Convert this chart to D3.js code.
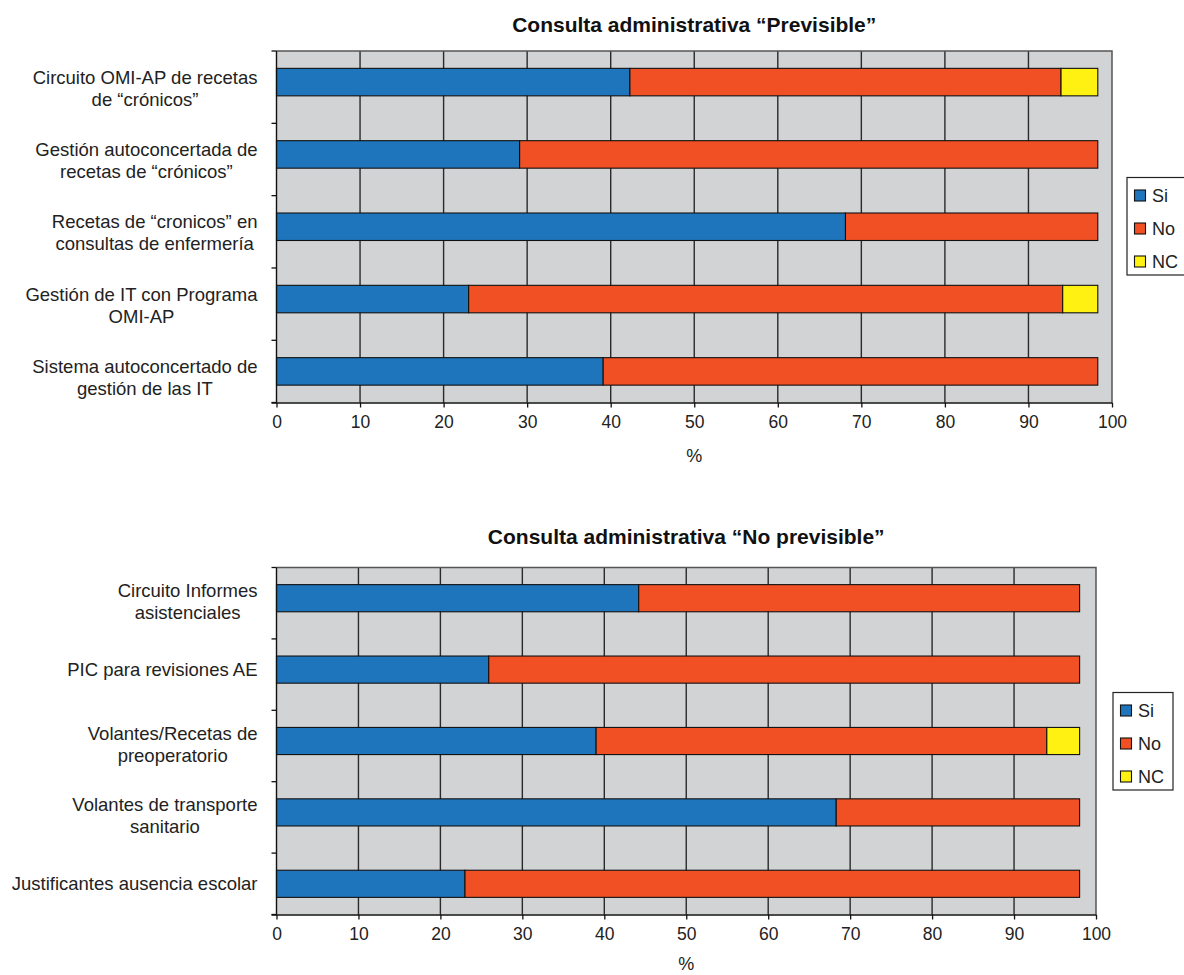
<!DOCTYPE html>
<html>
<head>
<meta charset="utf-8">
<script src="https://cdn.jsdelivr.net/npm/d3@7"></script>
<style>
  html, body { margin: 0; padding: 0; background: #fff; }
  svg { display: block; font-family: "Liberation Sans", Arial, Helvetica, sans-serif; }
</style>
</head>
<body>
<svg id="chart" width="1184" height="975"></svg>
<script>
// ---------- DATA ----------
const seriesNames = ["Si", "No", "NC"];
const xTicks = [0, 10, 20, 30, 40, 50, 60, 70, 80, 90, 100];

const topTitle = "Consulta administrativa \u201cPrevisible\u201d";
const topCategories = [
  ["Circuito OMI-AP de recetas", "de \u201ccr\u00f3nicos\u201d"],
  ["Gesti\u00f3n autoconcertada de", "recetas de \u201ccr\u00f3nicos\u201d"],
  ["Recetas de \u201ccronicos\u201d en", "consultas de enfermer\u00eda"],
  ["Gesti\u00f3n de IT con Programa", "OMI-AP"],
  ["Sistema autoconcertado de", "gesti\u00f3n de las IT"]
];
const topSi = [42.3, 29.1, 68.1, 23.0, 39.1];
const topNo = [51.6, 69.2, 30.2, 71.1, 59.2];
const topNC = [4.4, 0, 0, 4.2, 0];

const bottomTitle = "Consulta administrativa \u201cNo previsible\u201d";
const bottomCategories = [
  ["Circuito Informes", "asistenciales"],
  ["PIC para revisiones AE"],
  ["Volantes/Recetas de", "preoperatorio"],
  ["Volantes de transporte", "sanitario"],
  ["Justificantes ausencia escolar"]
];
const bottomSi = [44.2, 25.9, 39.0, 68.3, 23.0];
const bottomNo = [53.8, 72.1, 55.0, 29.7, 75.0];
const bottomNC = [0, 0, 4.0, 0, 0];

const axisLabel = "%";

// ---------- STYLE ----------
const colors = { Si: "#1f75bc", No: "#f05023", NC: "#fff212" };
const plotBg = "#d1d3d4";

const svg = d3.select("#chart");

function drawChart(cfg) {
  const { title, categories, si, no, nc, left, right, top, bottom, legendX, legendY, titleGap, labelShift, pctGap } = cfg;
  const g = svg.append("g");
  const x = d3.scaleLinear().domain([0, 100]).range([left, right]);
  const y = d3.scaleBand().domain(d3.range(categories.length)).range([top, bottom])
    .paddingInner(0.62).paddingOuter(0.24);

  // background
  g.append("rect").attr("x", left).attr("y", top)
    .attr("width", right - left).attr("height", bottom - top)
    .attr("fill", plotBg);

  // gridlines
  g.selectAll(".grid").data(xTicks.filter(t => t > 0 && t < 100)).join("line")
    .attr("x1", d => x(d)).attr("x2", d => x(d))
    .attr("y1", top).attr("y2", bottom)
    .attr("stroke", "#2a2a2a").attr("stroke-width", 1.4);

  // border (top & right)
  g.append("path")
    .attr("d", `M${left},${top}H${right}V${bottom}`)
    .attr("fill", "none").attr("stroke", "#555").attr("stroke-width", 1.5);

  // stacked bars
  const rows = categories.map((c, i) => ({ i, Si: si[i], No: no[i], NC: nc[i] }));
  const stack = d3.stack().keys(seriesNames)(rows);
  stack.forEach(layer => {
    g.append("g").selectAll("rect").data(layer.filter(d => d[1] - d[0] > 0)).join("rect")
      .attr("x", d => x(d[0]))
      .attr("y", d => y(d.data.i))
      .attr("width", d => x(d[1]) - x(d[0]))
      .attr("height", y.bandwidth())
      .attr("fill", colors[layer.key])
      .attr("stroke", "#111").attr("stroke-width", 1.1);
  });

  // x axis
  const xAxis = d3.axisBottom(x).tickValues(xTicks).tickSize(5).tickPadding(8).tickSizeOuter(0);
  const xa = g.append("g").attr("transform", `translate(0,${bottom})`).call(xAxis);
  xa.select(".domain").attr("stroke", "#111").attr("stroke-width", 1.3)
    .attr("d", `M${left - 5},0.5H${right}`);
  xa.selectAll(".tick line").attr("stroke", "#111").attr("stroke-width", 1.3);
  xa.selectAll(".tick text").attr("font-size", 17.5).attr("fill", "#222")
    .attr("font-family", "Liberation Sans, Arial, sans-serif");

  // y axis line + ticks at band boundaries
  g.append("line").attr("x1", left).attr("x2", left).attr("y1", top).attr("y2", bottom)
    .attr("stroke", "#111").attr("stroke-width", 1.4);
  const step = y.step();
  const boundaries = d3.range(categories.length + 1).map(k => top + k * step).filter(v => v <= bottom + 1);
  boundaries.push(bottom);
  g.selectAll(".ytick").data(boundaries).join("line")
    .attr("x1", left - 5).attr("x2", left)
    .attr("y1", d => d).attr("y2", d => d)
    .attr("stroke", "#111").attr("stroke-width", 1.3);

  // category labels
  const labelRight = left - 19;
  const lineH = 22;
  categories.forEach((lines, i) => {
    const cy = y(i) + y.bandwidth() / 2 + (lines.length > 1 ? labelShift : 0);
    const t = g.append("text").attr("font-size", 18.5).attr("fill", "#222")
      .attr("text-anchor", "middle");
    const spans = lines.map((ln, j) => t.append("tspan").text(ln)
      .attr("y", cy + (j - (lines.length - 1) / 2) * lineH + 6.5));
    const maxW = d3.max(spans, s => s.node().getComputedTextLength());
    spans.forEach(s => s.attr("x", labelRight - maxW / 2));
  });

  // title
  g.append("text").attr("x", (left + right) / 2).attr("y", top - titleGap)
    .attr("text-anchor", "middle").attr("font-size", 21).attr("font-weight", "bold")
    .attr("fill", "#111").text(title);

  // axis title
  g.append("text").attr("x", (left + right) / 2).attr("y", bottom + pctGap)
    .attr("text-anchor", "middle").attr("font-size", 18).attr("fill", "#222").text(axisLabel);

  // legend
  const lg = g.append("g").attr("transform", `translate(${legendX},${legendY})`);
  lg.append("rect").attr("x", 0).attr("y", 0).attr("width", 60).attr("height", 97.5)
    .attr("fill", "#fff").attr("stroke", "#222").attr("stroke-width", 1.2);
  seriesNames.forEach((s, k) => {
    const ry = 18 + k * 33;
    lg.append("rect").attr("x", 7.5).attr("y", ry - 5.5).attr("width", 11).attr("height", 11)
      .attr("fill", colors[s]).attr("stroke", "#111").attr("stroke-width", 1.1);
    lg.append("text").attr("x", 25).attr("y", ry + 6.3).attr("font-size", 18)
      .attr("fill", "#222").text(s);
  });
}

drawChart({
  title: topTitle, categories: topCategories, si: topSi, no: topNo, nc: topNC,
  left: 276.5, right: 1112, top: 51, bottom: 402.5, legendX: 1127, legendY: 177.5,
  titleGap: 19.5, labelShift: 6, pctGap: 59
});
drawChart({
  title: bottomTitle, categories: bottomCategories, si: bottomSi, no: bottomNo, nc: bottomNC,
  left: 276.5, right: 1096, top: 567.5, bottom: 914.5, legendX: 1113, legendY: 692.5,
  titleGap: 24, labelShift: 3, pctGap: 55
});
</script>
</body>
</html>
